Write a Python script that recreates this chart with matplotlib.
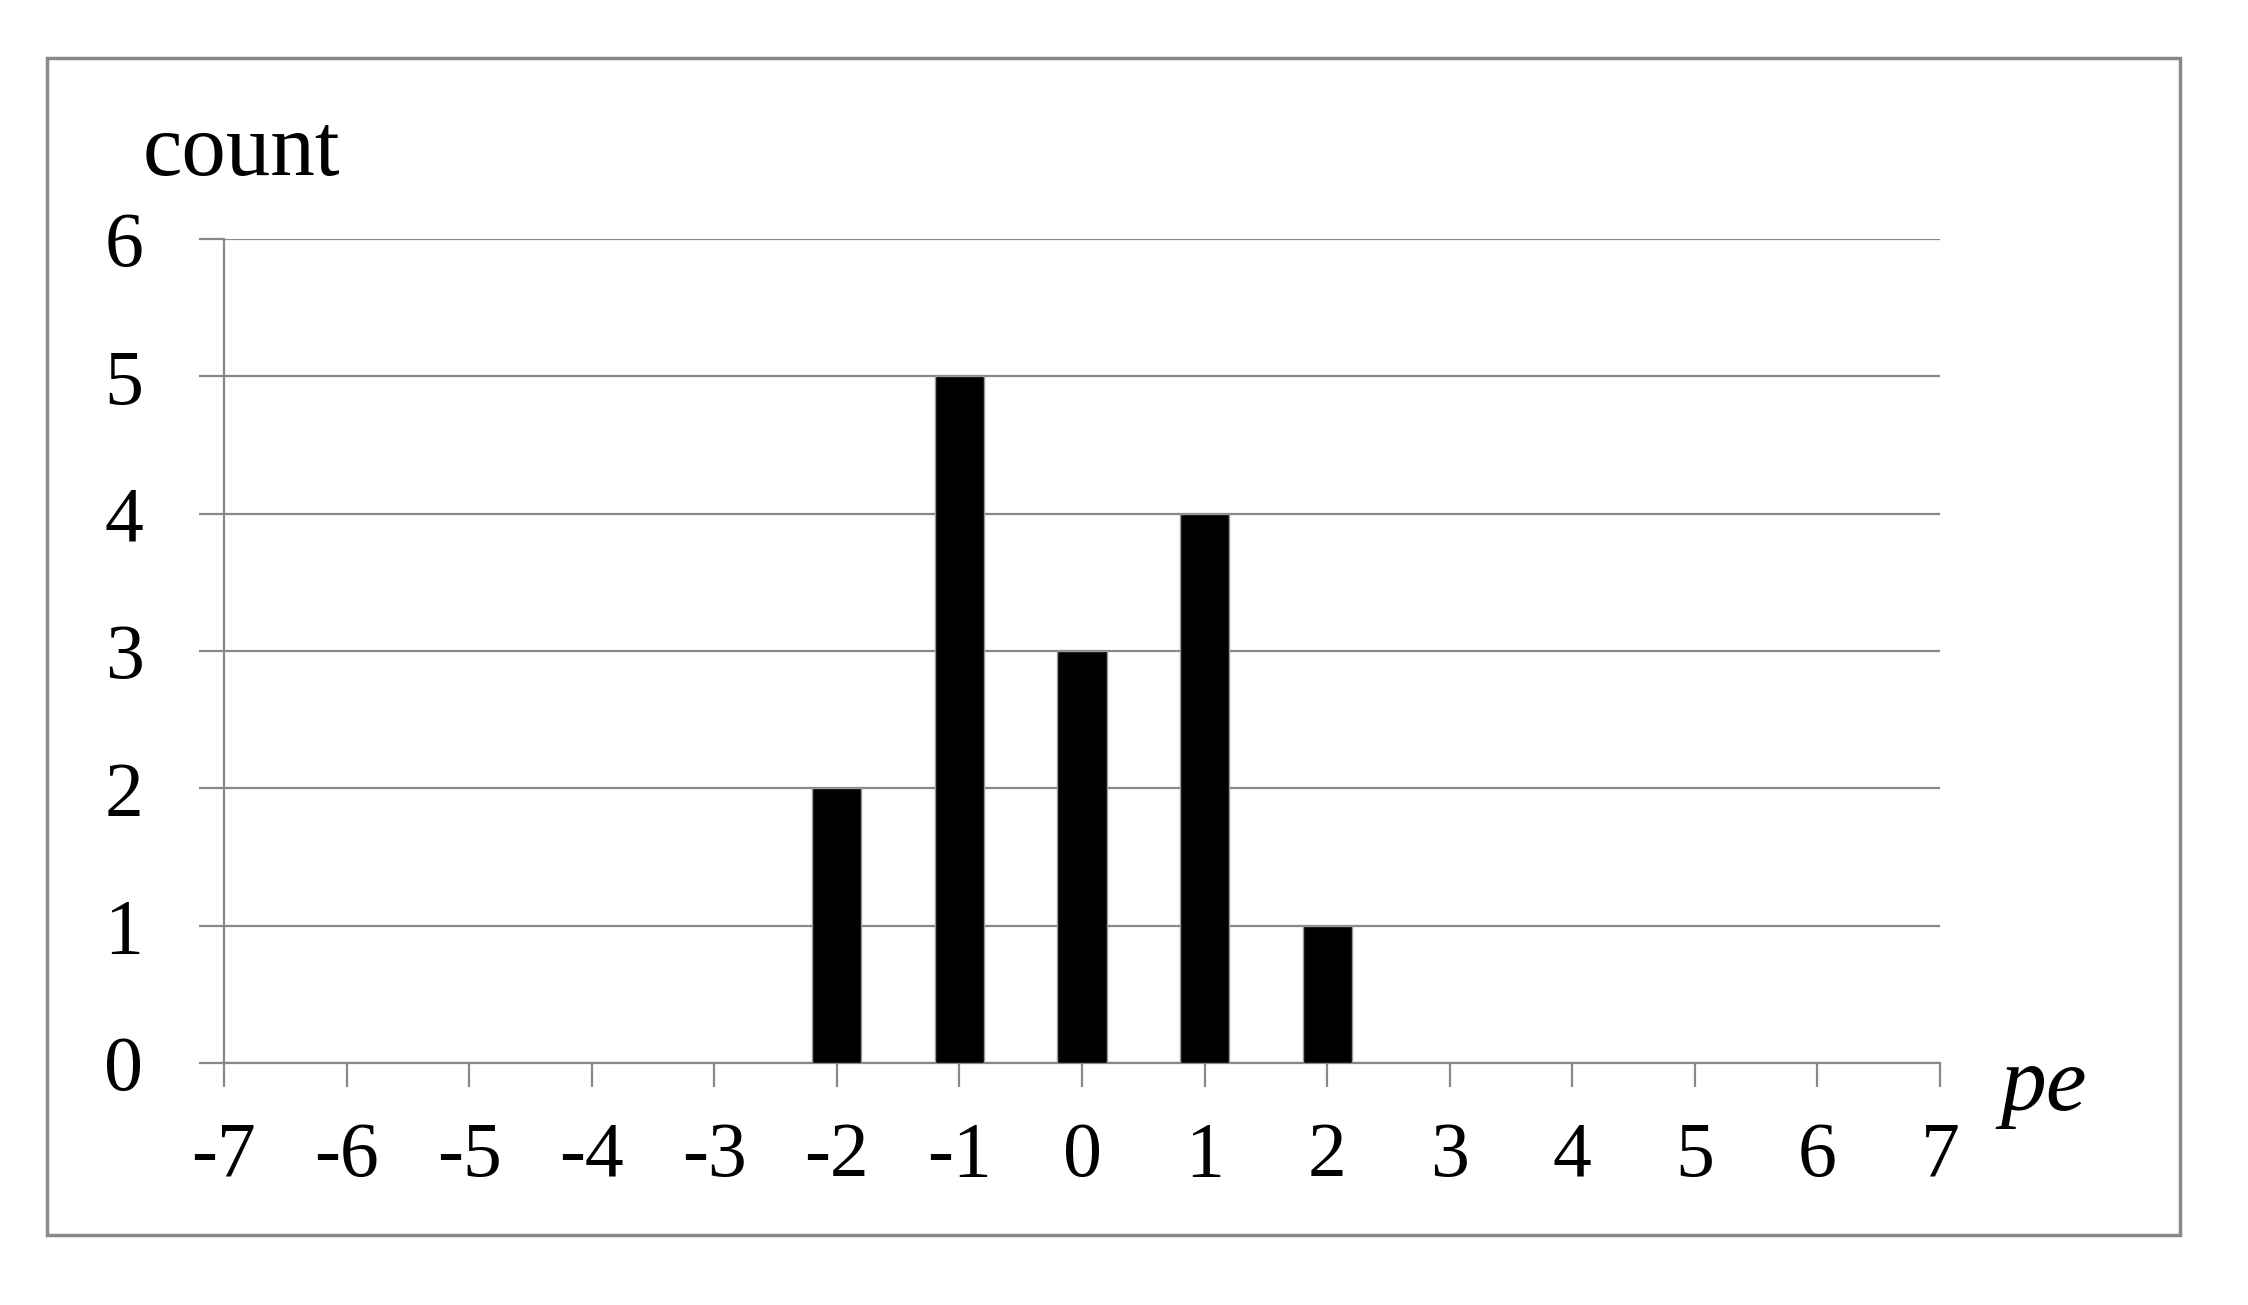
import matplotlib
matplotlib.use("Agg")
import matplotlib.pyplot as plt
from matplotlib.patches import Rectangle

pe_values = [-2, -1, 0, 1, 2]
counts = [2, 5, 3, 4, 1]
x_ticks = list(range(-7, 8))
y_ticks = list(range(0, 7))

plt.rcParams['font.family'] = ['Liberation Serif', 'DejaVu Serif']

W, H = 2248, 1305
fig = plt.figure(figsize=(W / 100, H / 100), dpi=100)

ax = fig.add_axes([224 / W, 1 - 1063 / H, (1940 - 224) / W, (1063 - 239) / H])

gray = '#888888'
ax.bar(pe_values, counts, width=0.40, color='black', edgecolor='#9a9a9a',
       linewidth=1.0, zorder=3)

ax.set_xlim(-7, 7)
ax.set_ylim(0, 6)
ax.set_xticks(x_ticks)
ax.set_yticks(y_ticks)
ax.set_xticklabels([str(v) for v in x_ticks])
ax.set_yticklabels([str(v) for v in y_ticks])

ax.yaxis.grid(True, color=gray, linewidth=1.6, zorder=0)
ax.set_axisbelow(True)

for s in ['top', 'right']:
    ax.spines[s].set_visible(False)
for s in ['left', 'bottom']:
    ax.spines[s].set_color(gray)
    ax.spines[s].set_linewidth(1.6)

ax.tick_params(axis='y', direction='out', length=18, width=1.6, color=gray,
               labelsize=56, pad=40)
ax.tick_params(axis='x', direction='out', length=17, width=1.6, color=gray,
               labelsize=56, pad=25)

fig.text(143 / W, 1 - 175 / H, 'count', fontsize=64, ha='left', va='baseline')
fig.text(2000 / W, 1 - 1110 / H, 'pe', fontsize=66, ha='left', va='baseline',
         style='italic')

fig.patches.append(Rectangle((47 / W, 1 - 1235 / H), (2180 - 47) / W, (1235 - 58) / H,
                             transform=fig.transFigure, fill=False,
                             edgecolor='#8a8a8a', linewidth=2.5))

fig.savefig('out.png', dpi=100, facecolor='white')
